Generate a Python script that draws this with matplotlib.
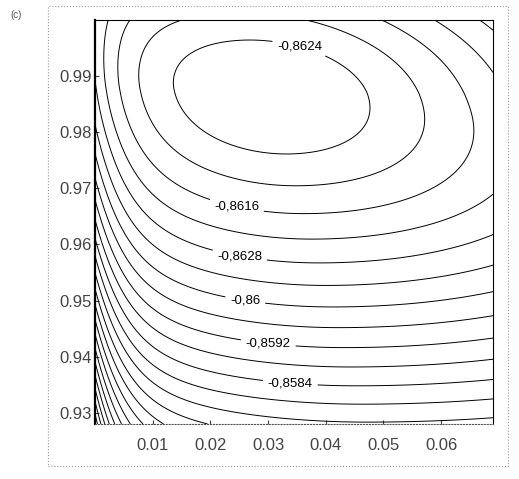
import numpy as np
import matplotlib
matplotlib.use("Agg")
import matplotlib.pyplot as plt
from matplotlib.patches import Rectangle

# contour levels (step)
levels = np.round(np.arange(-0.8624, -0.8500, 0.0004), 4)

# labelled levels, the text printed on them and where they sit
label_levels = [-0.8624, -0.8616, -0.8608, -0.8600, -0.8592, -0.8584]
label_texts = ["-0,8624", "-0,8616", "-0,8628", "-0,86", "-0,8592", "-0,8584"]
label_x = [0.0355, 0.0246, 0.0251, 0.0260, 0.0300, 0.0338]
label_y = [0.9955, 0.9670, 0.9581, 0.9497, 0.9421, 0.9346]

xticks = [0.01, 0.02, 0.03, 0.04, 0.05, 0.06]
xtick_labels = ["0.01", "0.02", "0.03", "0.04", "0.05", "0.06"]
yticks = [0.93, 0.94, 0.95, 0.96, 0.97, 0.98, 0.99]
ytick_labels = ["0.93", "0.94", "0.95", "0.96", "0.97", "0.98", "0.99"]

xlim = (0.0, 0.069)
ylim = (0.928, 1.0)

# surface shape (minimum, its place, spread)
fmin = -0.8629
x0, y0 = 0.0300, 0.9870
K = 1.584e-6
xs, ys = 5768.0, 5611.0   # scale of one unit on each axis


def surface(x, y):
    v = (y0 - y) * ys
    v = np.where(v < 0, 1.15 * v, v)
    vp = 0.5 * (v + np.sqrt(v ** 2 + 20.0 ** 2))
    dx = (x - x0) * xs - 0.3 * v
    e = x * xs
    u_r = dx / (1.6 * (1 + 0.0015 * vp))
    u_l = -dx / 1.67 * (1 + (0.67 + 0.002 * vp) * np.exp(-e / 40.0))
    u = np.where(dx > 0, u_r, u_l)
    return fmin + K * (u ** 2 + v ** 2) ** 0.7


gx = np.linspace(xlim[0], xlim[1], 500)
gy = np.linspace(ylim[0], ylim[1], 500)
X, Y = np.meshgrid(gx, gy)
Z = surface(X, Y)

plt.rcParams["font.family"] = ["Liberation Sans", "DejaVu Sans"]

fig = plt.figure(figsize=(5.19, 4.79), dpi=100)
ax = fig.add_axes([0.183, 0.115, 0.767, 0.843])

plain = [l for l in levels if not np.any(np.isclose(l, label_levels))]
ax.contour(X, Y, Z, levels=plain, colors="k", linewidths=0.7,
           linestyles="solid")
cs = ax.contour(X, Y, Z, levels=label_levels, colors="k", linewidths=0.7,
                linestyles="solid")
fmt = dict(zip(cs.levels, label_texts))
texts = ax.clabel(cs, fmt=fmt, inline=True, fontsize=9.5,
                  manual=list(zip(label_x, label_y)))
for t in texts:
    t.set_rotation(0)

ax.set_xlim(*xlim)
ax.set_ylim(*ylim)
ax.set_xticks(xticks)
ax.set_xticklabels(xtick_labels)
ax.set_yticks(yticks)
ax.set_yticklabels(ytick_labels)
ax.tick_params(direction="in", length=3, labelsize=12, colors="#444444")
ax.tick_params(axis="x", pad=10)
ax.tick_params(axis="y", pad=2)
for s in ax.spines.values():
    s.set_linewidth(0.8)
ax.spines["left"].set_linewidth(1.6)
ax.spines["bottom"].set_linestyle(":")
ax.spines["bottom"].set_color("#555555")

# scanned page frame and panel tag
fig.patches.append(Rectangle((48 / 519, 1 - 466 / 479), 460 / 519, 460 / 479,
                             transform=fig.transFigure, fill=False,
                             edgecolor="#999999", linestyle=":", linewidth=0.8))
fig.text(10 / 519, 1 - 18 / 479, "(c)", fontsize=7, color="#555555")

fig.savefig("out.png", dpi=100)
